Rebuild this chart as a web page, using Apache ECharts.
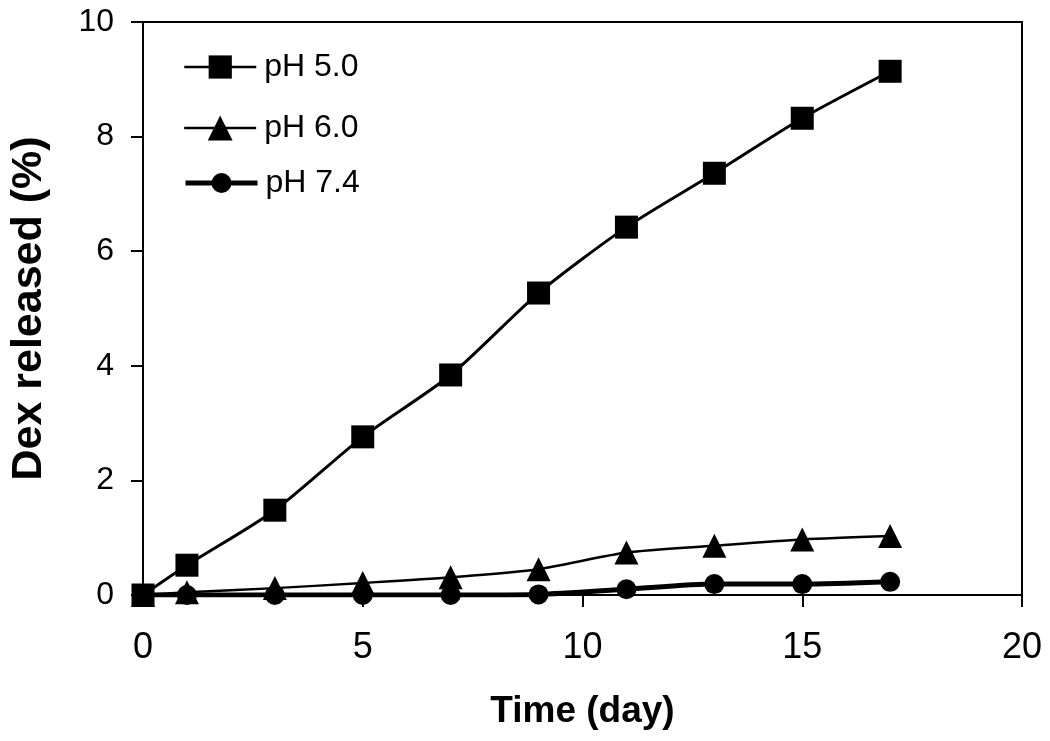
<!DOCTYPE html>
<html><head><meta charset="utf-8">
<script src="https://cdn.jsdelivr.net/npm/echarts@6/dist/echarts.min.js"></script>
<style>html,body{margin:0;padding:0;background:#fff}#c{width:1050px;height:741px}</style>
</head><body><div id="c"></div>
<script>
var days = [0, 1, 3, 5, 7, 9, 11, 13, 15, 17];
var ph50 = [0, 0.52, 1.48, 2.76, 3.84, 5.27, 6.42, 7.36, 8.32, 9.14];
var ph60 = [0, 0.05, 0.12, 0.21, 0.31, 0.45, 0.74, 0.86, 0.97, 1.03];
var ph74 = [0, 0, 0, 0, 0, 0.01, 0.10, 0.19, 0.19, 0.23];
var xTicks = [0, 5, 10, 15, 20];
var yTicks = [0, 2, 4, 6, 8, 10];
var names = ['pH 5.0', 'pH 6.0', 'pH 7.4'];

function pts(ys){ return days.map(function(d,i){ return [d, ys[i]]; }); }
var FONT = '"Liberation Sans", Arial, sans-serif';
var chart = echarts.init(document.getElementById('c'));
function legendFor(name, top, ih, lw){
  return { data:[name], orient:'vertical', left:183, top:top, padding:0,
    itemWidth:72, itemHeight:ih, itemGap:8,
    lineStyle:{ color:'#000', width:lw },
    textStyle:{ color:'#000', fontSize:32, fontFamily:FONT, padding:[0,0,0,3] } };
}
chart.setOption({
  animation:false,
  backgroundColor:'#fff',
  grid:{ left:141, right:28, top:22, bottom:146, show:true, borderColor:'#000', borderWidth:2 },
  legend:[ legendFor(names[0], 51, 29, 2.5), legendFor(names[1], 112, 31, 2.3), legendFor(names[2], 167, 25, 5) ],
  xAxis:{ type:'value', min:xTicks[0], max:xTicks[xTicks.length-1], interval:5,
    name:'Time (day)', nameLocation:'middle', nameGap:98,
    nameTextStyle:{ color:'#000', fontSize:37, fontWeight:'bold', fontFamily:FONT },
    axisLine:{ show:true, onZero:false, lineStyle:{ color:'#000', width:2 } },
    axisTick:{ show:true, inside:false, length:12, lineStyle:{ color:'#000', width:2 } },
    axisLabel:{ color:'#000', fontSize:36, fontFamily:FONT, margin:35 },
    splitLine:{ show:false } },
  yAxis:{ type:'value', min:yTicks[0], max:yTicks[yTicks.length-1], interval:2,
    name:'Dex released (%)', nameLocation:'middle', nameGap:92,
    nameTextStyle:{ color:'#000', fontSize:43, fontWeight:'bold', fontFamily:FONT },
    axisLine:{ show:true, onZero:false, lineStyle:{ color:'#000', width:2 } },
    axisTick:{ show:true, inside:false, length:12, lineStyle:{ color:'#000', width:2 } },
    axisLabel:{ color:'#000', fontSize:32, fontFamily:FONT, margin:29 },
    splitLine:{ show:false } },
  series:[
    { name:names[2], type:'line', data:pts(ph74), smooth:0.25, symbol:'circle', symbolSize:20,
      lineStyle:{ color:'#000', width:5 }, itemStyle:{ color:'#000' }, z:2 },
    { name:names[1], type:'line', data:pts(ph60), smooth:0.25, symbol:'triangle', symbolSize:24,
      lineStyle:{ color:'#000', width:2.5 }, itemStyle:{ color:'#000' }, z:3 },
    { name:names[0], type:'line', data:pts(ph50), smooth:0.25, symbol:'rect', symbolSize:23,
      lineStyle:{ color:'#000', width:3 }, itemStyle:{ color:'#000' }, z:4 }
  ]
});
</script></body></html>
